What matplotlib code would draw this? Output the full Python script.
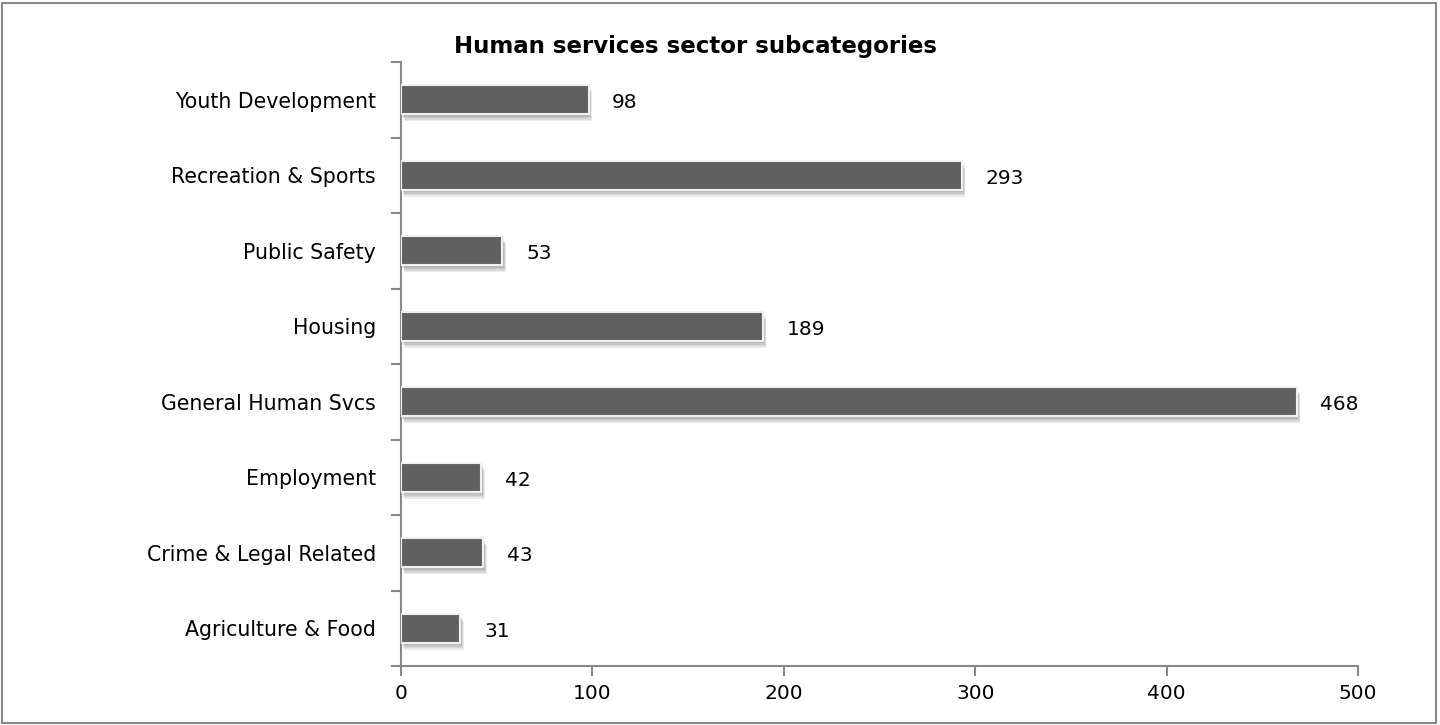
import matplotlib
matplotlib.use("Agg")
import matplotlib.pyplot as plt
import matplotlib.patheffects as pe
from matplotlib.patches import Rectangle
import numpy as np

categories = ["Agriculture & Food", "Crime & Legal Related", "Employment",
              "General Human Svcs", "Housing", "Public Safety",
              "Recreation & Sports", "Youth Development"]
values = [31, 43, 42, 468, 189, 53, 293, 98]
x_ticks = [0, 100, 200, 300, 400, 500]
title = "Human services sector subcategories"

plt.rcParams['font.family'] = ['DejaVu Sans']

fig = plt.figure(figsize=(14.4, 7.25), dpi=100)
ax = fig.add_axes([401/1440, 1-666/725, (1358-401)/1440, (666-62)/725])

y = np.arange(len(categories))
bars = ax.barh(y, values, height=0.38, color="#606060", edgecolor="#f0f0f0",
               linewidth=1.5, zorder=3)
shadow = []
for dx, dy in [(0.5, -1), (1, -2), (1.5, -3), (2, -4), (2.5, -5)]:
    shadow.append(pe.SimplePatchShadow(offset=(dx, dy), shadow_rgbFace="#383838", alpha=0.1))
shadow.append(pe.Normal())
for b in bars:
    b.set_path_effects(shadow)

for yi, v in zip(y, values):
    ax.annotate(str(v), (v, yi), xytext=(17, -2), textcoords="offset points",
                va="center", ha="left", fontsize=14.5, color="black")

ax.set_xlim(0, 500)
ax.set_ylim(-0.5, len(categories) - 0.5)
ax.set_xticks(x_ticks)
ax.set_xticklabels([str(t) for t in x_ticks], fontsize=14.5)
ax.set_yticks(y)
ax.set_yticklabels(categories, fontsize=14.8)
ax.set_yticks(np.arange(-0.5, len(categories)), minor=True)

for s in ["top", "right"]:
    ax.spines[s].set_visible(False)
for s in ["left", "bottom"]:
    ax.spines[s].set_color("#888888")
    ax.spines[s].set_linewidth(1.5)

ax.tick_params(axis="y", which="major", length=0, pad=18)
ax.tick_params(axis="y", which="minor", length=7, width=1.5, color="#888888", direction="out")
ax.tick_params(axis="x", which="major", length=7, width=1.5, color="#888888", direction="out", pad=6)

fig.text(695/1440, 1-46/725, title, ha="center", va="center",
         fontsize=16.5, fontweight="bold")

fig.patches.append(Rectangle((2/1440, 2/725), 1434/1440, 720/725, transform=fig.transFigure,
                             fill=False, edgecolor="#888888", linewidth=1.5))

fig.savefig("out.png", dpi=100)
